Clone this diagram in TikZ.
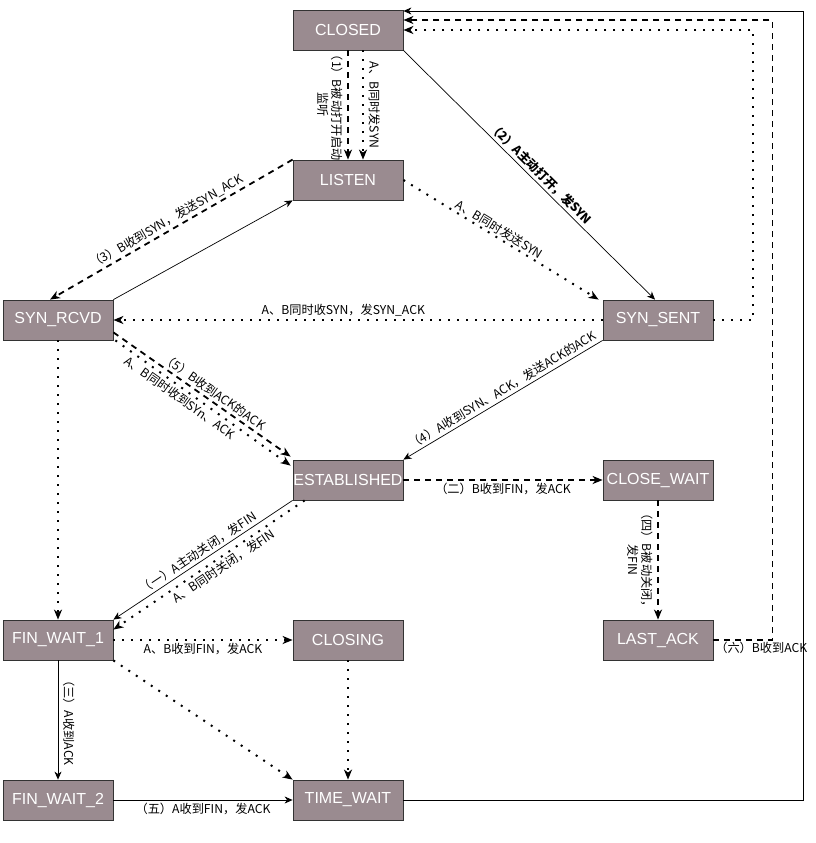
\documentclass[tikz,border=0pt]{standalone}
\usepackage{fontspec}
\setmainfont{Liberation Sans}
\newfontfamily\cjkfont{Noto Sans CJK SC}
\usetikzlibrary{arrows.meta}
\definecolor{boxfill}{HTML}{9A8B90}

\begin{document}
\begin{tikzpicture}[
		x=1pt, y=-1pt,
		box/.style={rectangle, draw=black!80, line width=0.8pt, fill=boxfill, text=white, minimum width=110pt, minimum height=40pt, inner sep=0pt, font=\fontsize{16}{18}\selectfont},
		lbl/.style={font=\cjkfont\fontsize{12.2}{14}\selectfont, inner sep=2.5pt, align=center},
		vlbl/.style={lbl, midway, rotate=-90, inner sep=4.5pt},
		solidarr/.style={-{Stealth[length=8pt, width=7pt, inset=2.5pt]}, line width=0.7pt},
		dasharr/.style={-{Stealth[length=10pt, width=8pt, inset=3pt]}, line width=1.8pt, dash pattern=on 6pt off 5pt},
		dotarr/.style={-{Stealth[length=10pt, width=8pt, inset=3pt]}, line width=2pt, dash pattern=on 2pt off 7pt}
		]
		\useasboundingbox (0,0) rectangle (815,843);
		
		% Connection setup
		\node[box] (closed) at (348,30) {CLOSED};
		\node[box] (listen) at (348,180) {LISTEN};
		\node[box] (synrcvd) at (58,320) {SYN\_RCVD};
		\node[box] (synsent) at (658,320) {SYN\_SENT};
		\node[box] (estab) at (348,480) {ESTABLISHED};
		
		% Passive close
		\node[box] (closewait) at (658,480) {CLOSE\_WAIT};
		\node[box] (lastack) at (658,640) {LAST\_ACK};
		
		% Active close
		\node[box] (finwaitone) at (58,640) {FIN\_WAIT\_1};
		\node[box] (closing) at (348,640) {CLOSING};
		\node[box] (finwaittwo) at (58,800) {FIN\_WAIT\_2};
		\node[box] (timewait) at (348,800) {TIME\_WAIT};
		
		% Opening
		\draw[dasharr] (closed.south) -- node[vlbl, anchor=north] {（1）B被动打开启动\\监听} (listen.north);
		\draw[dotarr] ([xshift=15pt]closed.south) -- node[vlbl, anchor=south] {A、B同时发SYN} ([xshift=15pt]listen.north);
		\draw[solidarr] (closed.south east) -- node[lbl, sloped, above, pos=0.52] {\bfseries（2）A主动打开，发SYN} ([xshift=-3pt]synsent.north);
		\draw[dotarr] (listen.east) -- node[lbl, sloped, above=-1pt, pos=0.47] {A、B同时发送SYN} ([xshift=-4pt]synsent.north west);
		\draw[dasharr] (listen.north west) -- node[lbl, sloped, above, pos=0.5] {（3）B收到SYN，发送SYN\_ACK} ([xshift=-8pt]synrcvd.north);
		\draw[solidarr] (synrcvd.north east) -- (listen.south west);
		\draw[dotarr] (synsent.west) -- node[lbl, above, pos=0.53] {A、B同时收SYN，发SYN\_ACK} (synrcvd.east);
		\draw[dasharr] ([yshift=8pt]synrcvd.south east) -- node[lbl, sloped, above, pos=0.54] {（5）B收到ACK的ACK} ([shift={(-2pt,3pt)}]estab.north west);
		\draw[dotarr] ([xshift=2pt]synrcvd.south east) -- node[lbl, sloped, below, pos=0.4] {A、B同时收到SYn、ACK} ([shift={(-2pt,-6pt)}]estab.north west);
		\draw[solidarr] (synsent.south west) -- node[lbl, sloped, above, pos=0.48] {（4）A收到SYN、ACK，发送ACK的ACK} (estab.north east);
		
		% Closing
		\draw[dasharr] (estab.east) -- node[lbl, below] {（二）B收到FIN，发ACK} (closewait.west);
		\draw[dasharr] (closewait.south) -- node[vlbl, anchor=north] {（四）B被动关闭，\\发FIN} (lastack.north);
		\draw[dotarr] (synrcvd.south) -- (finwaitone.north);
		\draw[solidarr] (estab.south west) -- node[lbl, sloped, above, pos=0.5] {（一）A主动关闭，发FIN} (finwaitone.north east);
		\draw[dotarr] ([xshift=12pt]estab.south west) -- node[lbl, sloped, below, pos=0.45] {A、B同时关闭，发FIN} ([yshift=-10pt]finwaitone.north east);
		\draw[dotarr] (finwaitone.east) -- node[lbl, below] {A、B收到FIN，发ACK} (closing.west);
		\draw[dotarr] (finwaitone.south east) -- (timewait.north west);
		\draw[solidarr] (finwaitone.south) -- node[vlbl, anchor=south] {（三）A收到ACK} (finwaittwo.north);
		\draw[dotarr] (closing.south) -- (timewait.north);
		\draw[solidarr] (finwaittwo.east) -- node[lbl, below] {（五）A收到FIN，发ACK} (timewait.west);
		
		% Back to CLOSED
		\draw[dotarr] (synsent.east) -- ++(40,0) |- (closed.east);
		\draw[dasharr] (lastack.east) -- node[lbl, anchor=north west, pos=0, inner sep=1pt] {（六）B收到ACK} ++(59,0) |- ([yshift=10pt]closed.east);
		\draw[solidarr] (timewait.east) -- ++(400,0) |- ([yshift=19pt]closed.east);
	\end{tikzpicture}
\end{document}
